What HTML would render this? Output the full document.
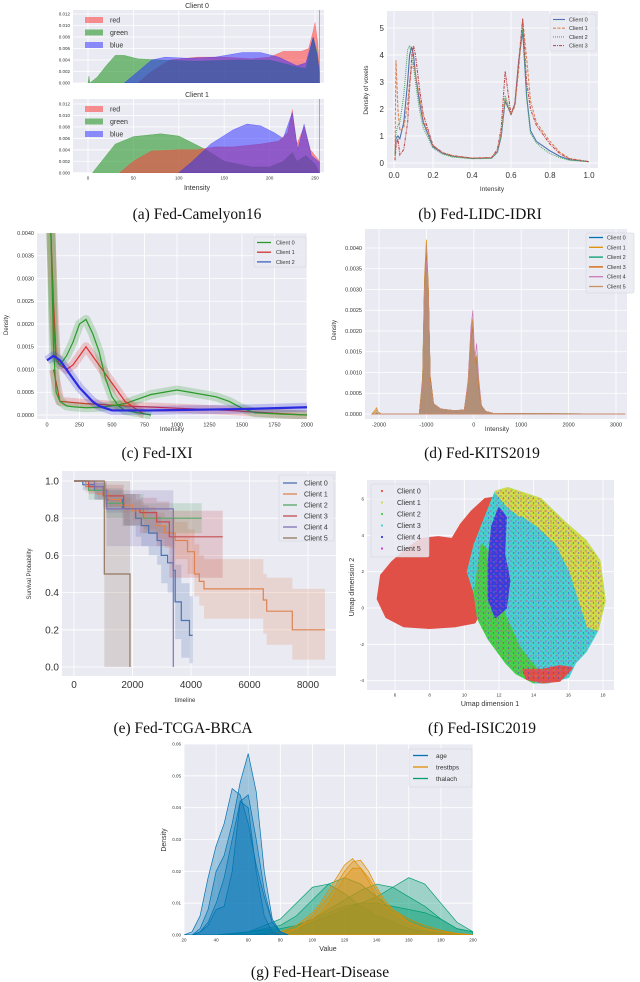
<!DOCTYPE html>
<html><head><meta charset="utf-8"><style>
html,body{margin:0;padding:0;background:#fff;}
svg{display:block;font-family:"Liberation Sans",sans-serif;}
.cap{font-family:"Liberation Serif",serif;font-size:15.5px;fill:#111;}
</style></head><body>
<svg id="fig" width="640" height="982" viewBox="0 0 640 982" xmlns="http://www.w3.org/2000/svg">
<defs>
<pattern id="dotsM" width="5" height="5" patternUnits="userSpaceOnUse"><circle cx="1" cy="1" r="0.8" fill="#d23cd2"/><circle cx="3.5" cy="3" r="0.7" fill="#3c3cdc"/></pattern>
<pattern id="dotsG" width="6" height="6" patternUnits="userSpaceOnUse"><circle cx="2" cy="4" r="0.8" fill="#46d246"/><circle cx="5" cy="1" r="0.7" fill="#e05046"/></pattern>
</defs>
<text class="cap" x="197" y="219" text-anchor="middle">(a) Fed-Camelyon16</text>
<text class="cap" x="480" y="219" text-anchor="middle">(b) Fed-LIDC-IDRI</text>
<text class="cap" x="157" y="458" text-anchor="middle">(c) Fed-IXI</text>
<text class="cap" x="482" y="458" text-anchor="middle">(d) Fed-KITS2019</text>
<text class="cap" x="183" y="733" text-anchor="middle">(e) Fed-TCGA-BRCA</text>
<text class="cap" x="482" y="733" text-anchor="middle">(f) Fed-ISIC2019</text>
<text class="cap" x="320" y="977" text-anchor="middle">(g) Fed-Heart-Disease</text>
</svg>
<script>
// ---------- (a) Camelyon16 ----------
const camTicksX=[0,50,100,150,200,250];
const camTicksY=[0,0.002,0.004,0.006,0.008,0.010,0.012];
const cam0RedX=[55,70,90,120,150,180,200,215,235,243,248,250,253,255];
const cam0RedY=[0,0.002,0.004,0.0045,0.0045,0.0042,0.0045,0.0055,0.0055,0.006,0.009,0.0105,0.007,0.0015];
const cam0GreenX=[0,1,2,10,20,30,40,55,80,120,160,200,225,240,248,253,255];
const cam0GreenY=[0,0.0012,0,0.001,0.003,0.0048,0.0048,0.0042,0.004,0.0038,0.004,0.004,0.003,0.0025,0.008,0.005,0];
const cam0BlueX=[40,55,70,85,110,140,170,190,210,230,240,248,252,255];
const cam0BlueY=[0,0.002,0.004,0.0045,0.0043,0.0045,0.0053,0.0053,0.0045,0.003,0.0035,0.008,0.005,0.002];
const cam1GreenX=[5,15,30,50,80,100,115,130,150,180,200,215,225,230,240,250,255];
const cam1GreenY=[0,0.002,0.005,0.0063,0.0068,0.0064,0.0052,0.004,0.002,0.001,0.001,0.002,0.0035,0.002,0.003,0.0015,0];
const cam1RedX=[35,50,70,100,120,140,160,190,210,220,225,230,238,245,255];
const cam1RedY=[0,0.002,0.0038,0.004,0.004,0.0045,0.0045,0.005,0.0055,0.007,0.011,0.005,0.008,0.004,0.002];
const cam1BlueX=[100,115,135,160,175,190,205,215,225,231,238,246,255];
const cam1BlueY=[0,0.002,0.005,0.0075,0.0085,0.0082,0.007,0.006,0.0105,0.004,0.0085,0.003,0.0018];
const camLegend=['red','green','blue'];
// ---------- (b) LIDC ----------
const lidcX=[0.005,0.01,0.02,0.03,0.05,0.07,0.08,0.09,0.1,0.11,0.13,0.15,0.2,0.25,0.3,0.4,0.5,0.53,0.55,0.57,0.6,0.62,0.64,0.66,0.68,0.7,0.73,0.76,0.8,0.85,0.9,1.0];
const lidcC0=[0.3,0.9,1.0,0.9,1.5,3.0,4.0,4.3,4.0,3.3,2.3,1.5,0.6,0.35,0.25,0.17,0.18,0.4,1.0,2.3,1.8,2.2,3.8,4.9,2.5,1.2,0.8,0.65,0.45,0.25,0.12,0.05];
const lidcC1=[0.1,3.8,2.0,1.2,1.3,2.2,3.0,3.5,3.7,3.3,2.5,1.6,0.65,0.38,0.27,0.18,0.2,0.45,1.1,2.4,1.8,2.1,3.5,5.3,3.9,2.3,1.5,1.2,0.8,0.4,0.17,0.05];
const lidcC2=[0.3,1.1,1.4,1.5,2.5,4.2,4.35,4.0,3.6,3.0,2.0,1.3,0.55,0.33,0.22,0.16,0.17,0.4,1.0,2.5,1.8,2.2,3.8,5.0,2.4,1.1,0.75,0.55,0.35,0.2,0.1,0.05];
const lidcC3=[0.1,0.6,0.9,0.3,0.5,1.5,2.8,3.8,4.35,4.0,2.8,1.8,0.65,0.38,0.27,0.18,0.2,0.5,1.3,3.4,1.8,2.2,3.8,5.35,3.0,2.0,1.4,1.1,0.7,0.35,0.15,0.05];
const lidcTicksX=[0,0.2,0.4,0.6,0.8,1.0];
const lidcTicksY=[0,1,2,3,4,5];
// ---------- (c) IXI ----------
const ixiTicksX=[0,250,500,750,1000,1250,1500,1750,2000];
const ixiTicksY=[0,0.0005,0.001,0.0015,0.002,0.0025,0.003,0.0035,0.004];
const ixiGreenAX=[0,30,50,70,100,150,200,250,300,350,400,450,500,550,600,700,800];
const ixiGreenAY=[0.0045,0.004,0.002,0.0012,0.0011,0.0013,0.0016,0.002,0.0021,0.0018,0.0014,0.0008,0.0004,0.0002,0.0001,0.00005,0];
const ixiGreenBX=[0,30,50,70,100,150,200,300,400,500,600,700,800,900,1000,1100,1200,1300,1400,1500,1600,1800,2000];
const ixiGreenBY=[0.0045,0.004,0.0015,0.0005,0.0003,0.0002,0.00018,0.00016,0.00017,0.0002,0.00025,0.00035,0.00045,0.0005,0.00055,0.0005,0.00045,0.0004,0.0003,0.00015,0.00005,0.00002,0];
const ixiRedAX=[0,30,50,70,100,150,200,250,300,350,400,450,500,550,600,650,700,750];
const ixiRedAY=[0.0045,0.004,0.0025,0.0013,0.0011,0.001,0.0011,0.0013,0.0015,0.0013,0.0011,0.0009,0.0007,0.0005,0.0003,0.0002,0.0001,0.00002];
const ixiRedBX=[50,100,300,600,1000,1400,1800,2000];
const ixiRedBY=[0.001,0.0003,0.00025,0.0002,0.00015,0.0001,0.00003,0];
const ixiBlueX=[0,50,100,150,200,250,300,350,400,450,500,600,800,1000,1500,2000];
const ixiBlueY=[0.0012,0.0013,0.0012,0.001,0.0008,0.0006,0.00045,0.0003,0.0002,0.00015,0.0001,0.0001,0.0001,0.00011,0.00013,0.00017];
const ixiLegend=['Client 0','Client 1','Client 2'];
// ---------- (d) KITS ----------
const kitsTicksX=[-2000,-1000,0,1000,2000,3000];
const kitsTicksY=[0,0.0005,0.001,0.0015,0.002,0.0025,0.003,0.0035,0.004];
const kitsX=[-2150,-2080,-2050,-2020,-1950,-1150,-1080,-1040,-1000,-960,-920,-850,-700,-400,-200,-120,-60,-20,20,60,100,160,250,400,700,3200];
const kitsC0=[0,0,0.00003,0,0,0,0.0008,0.003,0.004,0.003,0.0009,0.00025,0.00012,0.00008,0.0001,0.0007,0.0019,0.0021,0.0013,0.0014,0.0008,0.0002,0.00006,0.00002,0.00001,0];
const kitsC1=[0,0.0001,0.00015,0.00005,0,0,0.0009,0.0033,0.0042,0.0031,0.0009,0.00025,0.00012,0.00008,0.0001,0.0008,0.002,0.0023,0.0012,0.0013,0.0007,0.0002,0.00006,0.00002,0.00001,0];
const kitsC2=[0,0,0.00002,0,0,0,0.0008,0.0031,0.004,0.0029,0.0008,0.00024,0.00012,0.00008,0.0001,0.0007,0.0019,0.0022,0.0012,0.0013,0.0007,0.0002,0.00006,0.00002,0.00001,0];
const kitsC3=[0,0,0.00002,0,0,0,0.0007,0.003,0.0039,0.003,0.0009,0.00025,0.00012,0.00008,0.0001,0.0007,0.0018,0.0021,0.0012,0.0014,0.0007,0.0002,0.00006,0.00002,0.00001,0];
const kitsC4=[0,0,0.00001,0,0,0,0.0007,0.0028,0.0037,0.0028,0.0008,0.00024,0.00012,0.00008,0.0001,0.0008,0.0021,0.0025,0.0013,0.0017,0.0009,0.0002,0.00006,0.00002,0.00001,0];
const kitsC5=[0,0.00005,0.0001,0.00005,0,0,0.0008,0.0032,0.0041,0.003,0.0008,0.00025,0.00012,0.00008,0.0001,0.0007,0.0019,0.0022,0.0012,0.0014,0.0008,0.0002,0.00006,0.00002,0.00001,0];
const kitsLegend=['Client 0','Client 1','Client 2','Client 3','Client 4','Client 5'];
// ---------- (e) TCGA-BRCA ----------
const kmTicksX=[0,2000,4000,6000,8000];
const kmTicksY=[0,0.2,0.4,0.6,0.8,1.0];
const km0T=[0,300,700,1100,1655,2110,2300,2555,2840,2980,3200,3390,3460,3670,3950];
const km0S=[1,0.98,0.95,0.9,0.85,0.8,0.76,0.72,0.68,0.6,0.56,0.52,0.35,0.25,0.17];
const km0Lo=[1,0.95,0.9,0.83,0.76,0.7,0.65,0.6,0.55,0.45,0.4,0.35,0.15,0.05,0.02];
const km0Hi=[1,1,0.99,0.96,0.93,0.9,0.87,0.84,0.81,0.76,0.73,0.7,0.55,0.45,0.38];
const km1T=[0,400,800,1200,1600,2000,2400,2800,3100,3460,3880,4120,4285,4444,6473,6587,7464];
const km1S=[1,0.97,0.93,0.9,0.87,0.84,0.8,0.76,0.72,0.68,0.62,0.5,0.46,0.42,0.36,0.3,0.2];
const km1Lo=[1,0.94,0.9,0.86,0.83,0.79,0.74,0.69,0.64,0.58,0.5,0.38,0.33,0.26,0.18,0.12,0.04];
const km1Hi=[1,1,0.96,0.93,0.91,0.89,0.86,0.83,0.8,0.78,0.74,0.66,0.6,0.58,0.5,0.48,0.42];
const km2T=[0,500,1100,1700,2370];
const km2S=[1,0.95,0.88,0.85,0.8];
const km2Lo=[1,0.9,0.8,0.76,0.72];
const km2Hi=[1,0.99,0.95,0.93,0.88];
const km3T=[0,500,1000,1700,2256,2827,3258];
const km3S=[1,0.97,0.92,0.85,0.83,0.78,0.7];
const km3Lo=[1,0.93,0.86,0.76,0.72,0.65,0.48];
const km3Hi=[1,1,0.98,0.93,0.91,0.89,0.84];
const km4T=[0,700,1000,1117,3395];
const km4S=[1,0.97,0.95,0.85,0];
const km4Lo=[1,0.9,0.85,0.65,0];
const km4Hi=[1,1,1,0.95,0];
const km5T=[0,1037,1915];
const km5S=[1,0.5,0];
const km5Lo=[1,0,0];
const km5Hi=[1,1,0];
const kmEnd=[4058,8581,4365,5083,3395,1915];
const kmLegend=['Client 0','Client 1','Client 2','Client 3','Client 4','Client 5'];
// ---------- (f) ISIC2019 (cluster outlines in data coords) ----------
const isicTicksX=[6,8,10,12,14,16,18];
const isicTicksY=[-4,-2,0,2,4,6];
const isicRedBlob=[[5,0.5],[5.2,1.8],[5.8,2.5],[6.6,3.2],[7.5,3.8],[8.5,3.9],[9.3,3.8],[9.8,4.6],[10.4,5.3],[11.2,6],[11.9,6.1],[12,5],[11.5,4.2],[11,3.8],[10.5,3],[10.5,2.2],[11,1.2],[11,0],[10.6,-0.8],[9.5,-1],[8,-1.1],[6.5,-1],[5.5,-0.5]];
const isicCluster=[[10.2,2],[10.6,3.5],[11.3,5.2],[11.8,6.4],[12.5,6.6],[14.4,6],[15.8,4.7],[17,3.7],[17.8,2.6],[18.1,0.4],[17.7,-1.2],[17,-2.4],[16.4,-3],[16,-3.8],[14.8,-4.1],[14,-4.1],[13,-3.6],[12.4,-3],[11.4,-1.7],[10.8,-0.6],[10.6,0.8]];
const isicYellow=[[11.8,6.4],[12.5,6.6],[14.4,6],[15.8,4.7],[17,3.7],[17.8,2.6],[18.1,0.4],[17.7,-1.2],[17,-1],[16.5,0.5],[16,2],[15.2,3.5],[14.2,4.4],[13.3,5],[12.5,5.6]];
const isicCyan=[[12.2,4.5],[13.3,5],[14.2,4.4],[15.2,3.5],[16,2],[16.5,0.5],[17,-1],[16.6,-2.8],[15.8,-3.5],[14.5,-3.6],[13.6,-3],[13,-1.5],[12.5,0.5],[12.3,2.5]];
const isicGreen=[[10.6,0.8],[10.8,-0.6],[11.4,-1.7],[12.4,-3],[13,-3.6],[14,-4.1],[14.2,-3.4],[13.2,-2.2],[12.4,-0.5],[11.8,1],[11.5,3],[11,3.5]];
const isicBlue=[[11.6,4.5],[12,5.5],[12.4,5],[12.3,3],[12.6,1.5],[12.4,0],[11.8,-0.5],[11.4,0.5],[11.4,2.5]];
const isicRedBottom=[[13.4,-3.4],[14.5,-3.4],[15.5,-3.2],[16.2,-3.3],[15.5,-4],[14.5,-4.1],[13.6,-3.9]];
const isicLegend=['Client 0','Client 1','Client 2','Client 3','Client 4','Client 5'];
// ---------- (g) Heart disease ----------
const hdTicksX=[20,40,60,80,100,120,140,160,180,200];
const hdTicksY=[0,0.01,0.02,0.03,0.04,0.05,0.06];
const ageX=[20,25,30,35,40,45,50,55,60,65,70,75,80,85];
const age1=[0,0.001,0.006,0.018,0.028,0.035,0.046,0.044,0.035,0.022,0.012,0.004,0.001,0];
const age2=[0,0,0.002,0.008,0.02,0.025,0.035,0.048,0.057,0.045,0.02,0.005,0.001,0];
const age3=[0,0,0.001,0.004,0.01,0.018,0.03,0.042,0.044,0.03,0.014,0.004,0.001,0];
const age4=[0,0,0.001,0.003,0.008,0.009,0.02,0.042,0.04,0.02,0.006,0.001,0,0];
const tbX=[70,80,90,100,105,110,115,120,125,130,135,140,145,150,160,170,180,190,200];
const tb1=[0,0.001,0.003,0.007,0.01,0.014,0.018,0.022,0.024,0.021,0.017,0.012,0.009,0.007,0.004,0.002,0.001,0.0005,0];
const tb2=[0,0.001,0.002,0.006,0.009,0.012,0.016,0.02,0.023,0.0235,0.02,0.015,0.011,0.008,0.004,0.002,0.001,0.0005,0];
const tb3=[0,0,0.002,0.005,0.007,0.01,0.014,0.018,0.021,0.021,0.018,0.014,0.01,0.008,0.005,0.003,0.0015,0.0005,0];
const thX=[40,60,80,90,100,110,120,130,140,150,160,170,180,190,200];
const th1=[0,0.001,0.005,0.01,0.015,0.016,0.013,0.009,0.006,0.004,0.002,0.001,0.0005,0.0002,0];
const th2=[0,0.001,0.003,0.006,0.011,0.016,0.018,0.016,0.012,0.008,0.005,0.003,0.0015,0.0005,0];
const th3=[0,0,0.001,0.002,0.004,0.006,0.008,0.01,0.012,0.015,0.018,0.016,0.01,0.004,0.001];
const th4=[0,0,0.001,0.003,0.005,0.008,0.011,0.014,0.016,0.015,0.012,0.009,0.005,0.002,0.001];
const th5=[0,0.001,0.002,0.003,0.005,0.007,0.009,0.01,0.01,0.009,0.008,0.007,0.005,0.002,0.001];
const hdLegend=['age','trestbps','thalach'];

// ---------- helpers ----------
const NS='http://www.w3.org/2000/svg';
const svg=document.getElementById('fig');
function mk(tag,parent,attrs){const e=document.createElementNS(NS,tag);for(const k in attrs)e.setAttribute(k,attrs[k]);parent.appendChild(e);return e;}
function txt(parent,x,y,s,size,anchor,extra){const t=mk('text',parent,Object.assign({x:x,y:y,'font-size':size,'text-anchor':anchor||'middle',fill:'#333'},extra||{}));t.textContent=s;return t;}
function lin(d0,p0,d1,p1){return v=>p0+(v-d0)*(p1-p0)/(d1-d0);}
let clipN=0;
function axes(name,box,sx,sy,xt,yt,xfmt,yfmt,fs,showX){
  const g=mk('g',svg,{});
  
  
  const bg=mk('rect',g,{x:box[0],y:box[1],width:box[2]-box[0],height:box[3]-box[1],fill:'#eaeaf2'});
  
  
  xt.forEach(v=>{
    const l=mk('line',g,{x1:sx(v),x2:sx(v),y1:box[1],y2:box[3],stroke:'#fff','stroke-width':0.8});
    
    
    if(showX!==false){
      const t=txt(g,sx(v),box[3]+fs+2,xfmt(v),fs);
      
      
    }
  });
  yt.forEach(v=>{
    const l=mk('line',g,{x1:box[0],x2:box[2],y1:sy(v),y2:sy(v),stroke:'#fff','stroke-width':0.8});
    
    
    const t=txt(g,box[0]-3,sy(v)+fs*0.35,yfmt(v),fs,'end');
    
    
  });
  const cp=mk('clipPath',g,{id:'clip'+(++clipN)});
  mk('rect',cp,{x:box[0],y:box[1],width:box[2]-box[0],height:box[3]-box[1]});
  const inner=mk('g',g,{'clip-path':'url(#clip'+clipN+')'});
  
  
  return inner;
}
function linePath(xs,ys,sx,sy){return xs.map((x,i)=>(i?'L':'M')+sx(x).toFixed(2)+','+sy(ys[i]).toFixed(2)).join('');}
function areaPath(xs,ys,sx,sy){return linePath(xs,ys,sx,sy)+'L'+sx(xs[xs.length-1]).toFixed(2)+','+sy(0).toFixed(2)+'L'+sx(xs[0]).toFixed(2)+','+sy(0).toFixed(2)+'Z';}
function polyPts(pts,sx,sy){return pts.map(p=>sx(p[0]).toFixed(1)+','+sy(p[1]).toFixed(1)).join(' ');}
function rotLabel(x,y,s,size,name){const t=txt(svg,x,y,s,size,'middle',{transform:'rotate(-90 '+x+' '+y+')'});return t;}
function label(x,y,s,size,name){const t=txt(svg,x,y,s,size);return t;}
function legendBox(x,y,w,h){const r=mk('rect',svg,{x:x,y:y,width:w,height:h,fill:'#eaeaf2','fill-opacity':0.85,stroke:'#d0d0d8','stroke-width':0.5,rx:1.5});}
const f3=v=>v.toFixed(3), f4=v=>v.toFixed(4), f1=v=>v.toFixed(1), f0=v=>String(v), f2=v=>v.toFixed(2);

// ---------- draw (a) ----------
const camSx=lin(0,88,250,315);
const cam0Sy=lin(0,83,0.012,14);
const cam1Sy=lin(0,172.7,0.012,104);
const camCols=['rgba(255,60,60,0.55)','rgba(40,150,40,0.6)','rgba(40,40,255,0.5)'];
const a0=axes('camelyon-client0-plot',[73,10,324,83],camSx,cam0Sy,camTicksX,camTicksY,f0,f3,4.5,false);
[[cam0RedX,cam0RedY],[cam0GreenX,cam0GreenY],[cam0BlueX,cam0BlueY]].forEach((s,i)=>{
  const p=mk('path',a0,{d:areaPath(s[0],s[1],camSx,cam0Sy),fill:camCols[i],stroke:camCols[i],'stroke-width':0.5});
  
  
});
const a1=axes('camelyon-client1-plot',[73,99,324,173],camSx,cam1Sy,camTicksX,camTicksY,f0,f3,4.5,true);
[[cam1GreenX,cam1GreenY],[cam1RedX,cam1RedY],[cam1BlueX,cam1BlueY]].forEach((s,i)=>{
  const ci=[1,0,2][i];
  const p=mk('path',a1,{d:areaPath(s[0],s[1],camSx,cam1Sy),fill:camCols[ci],stroke:camCols[ci],'stroke-width':0.5});
  
  
});
[a0,a1].forEach((g,j)=>{
  const vl=mk('line',g,{x1:camSx(255),x2:camSx(255),y1:j?99:10,y2:j?173:83,stroke:'#8870b0','stroke-width':0.6});
  
  
});
label(197,8,'Client 0',7,'client0-title');
label(197,97,'Client 1',7,'client1-title');
label(197,190,'Intensity',7,'camelyon-x-axis-title');
[20,109].forEach(y0=>{
  camLegend.forEach((n,i)=>{
    const r=mk('rect',svg,{x:85,y:y0+i*12.5-3,width:18,height:6,fill:camCols[i]});
    
    
    const t=txt(svg,110,y0+i*12.5+2.5,n,7,'start');
    
    
  });
});

// ---------- draw (b) ----------
const lSx=lin(0,394,1,589), lSy=lin(0,163,5,28);
const bG=axes('lidc-plot',[387,11,598,168],lSx,lSy,lidcTicksX,lidcTicksY,f1,f0,8,true);
const lidcCols=['#4c72b0','#dd8452','#55a868','#c44e52'];
const lidcDash=['none','3,1.5','1,1','3,1,1,1'];
[lidcC0,lidcC1,lidcC2,lidcC3].forEach((ys,i)=>{
  const p=mk('path',bG,{d:linePath(lidcX,ys,lSx,lSy),fill:'none',stroke:lidcCols[i],'stroke-width':1.1,'stroke-dasharray':lidcDash[i]});
  
  
});
rotLabel(368,90,'Density of voxels',6.5,'lidc-y-axis-title');
label(492,191,'Intensity',6.5,'lidc-x-axis-title');
legendBox(550,14,46,37);
['Client 0','Client 1','Client 2','Client 3'].forEach((n,i)=>{
  const y=19.5+i*8.7;
  const l=mk('line',svg,{x1:553,x2:565,y1:y,y2:y,stroke:lidcCols[i],'stroke-width':1.1,'stroke-dasharray':lidcDash[i]});
  
  
  const t=txt(svg,569,y+2,n,5.5,'start');
  
  
});

// ---------- draw (c) ----------
const iSx=lin(0,47,2000,307), iSy=lin(0,415,0.004,233);
const cG=axes('ixi-plot',[37,233,307,419],iSx,iSy,ixiTicksX,ixiTicksY,f0,f4,5.5,true);
const ixiSeries=[[ixiRedBX,ixiRedBY,'#e03030','client1'],[ixiGreenBX,ixiGreenBY,'#2a9a2a','client0'],[ixiRedAX,ixiRedAY,'#e03030','client1'],[ixiGreenAX,ixiGreenAY,'#2a9a2a','client0'],[ixiBlueX,ixiBlueY,'#2a2ae0','client2']];
ixiSeries.forEach(s=>{
  const h=mk('path',cG,{d:linePath(s[0],s[1],iSx,iSy),fill:'none',stroke:s[2],'stroke-width':9,'stroke-opacity':0.22,'stroke-linejoin':'round'});
  
  
  const p=mk('path',cG,{d:linePath(s[0],s[1],iSx,iSy),fill:'none',stroke:s[2],'stroke-width':s[3]==='client2'?2.2:1.2});
  
  
});
rotLabel(8,325,'Density',6,'ixi-y-axis-title');
label(172,431,'Intensity',6.5,'ixi-x-axis-title');
legendBox(254,237,52,30);
const ixiCols=['#2a9a2a','#d03030','#4060c0'];
ixiLegend.forEach((n,i)=>{
  const y=242.5+i*9.7;
  const l=mk('line',svg,{x1:257,x2:271,y1:y,y2:y,stroke:ixiCols[i],'stroke-width':1.3});
  
  
  const t=txt(svg,276,y+2,n,5.5,'start');
  
  
});

// ---------- draw (d) ----------
const kSx=lin(-2000,379,3000,616), kSy=lin(0,414,0.004,248);
const dG=axes('kits-plot',[365,229,627,419],kSx,kSy,kitsTicksX,kitsTicksY,f0,f4,5.5,true);
const kitsCols=['#0173b2','#de8f05','#029e73','#d55e00','#cc78bc','#ca9161'];
[kitsC0,kitsC1,kitsC2,kitsC3,kitsC4,kitsC5].forEach((ys,i)=>{
  const a=mk('path',dG,{d:areaPath(kitsX,ys,kSx,kSy),fill:kitsCols[i],'fill-opacity':0.28,stroke:kitsCols[i],'stroke-width':0.7});
  
  
});
rotLabel(336,330,'Density',6,'kits-y-axis-title');
label(497,431,'Intensity',6.5,'kits-x-axis-title');
legendBox(586,233,48,60);
kitsLegend.forEach((n,i)=>{
  const y=237.5+i*9.8;
  const l=mk('line',svg,{x1:589,x2:603,y1:y,y2:y,stroke:kitsCols[i],'stroke-width':1.3});
  
  
  const t=txt(svg,607,y+2,n,5.5,'start');
  
  
});

// ---------- draw (e) ----------
const eSx=lin(0,74,8000,308), eSy=lin(0,667,1,481);
const eG=axes('tcga-plot',[62,471,336,676],eSx,eSy,kmTicksX,kmTicksY,f0,f1,10,true);
const kmCols=['#4c72b0','#dd8452','#55a868','#c44e52','#8172b3','#937860'];
function stepPts(t,s,end){const p=[];for(let i=0;i<t.length;i++){const t1=i+1<t.length?t[i+1]:end;p.push([t[i],s[i]],[t1,s[i]]);}return p;}
const kmData=[[km0T,km0S,km0Lo,km0Hi],[km1T,km1S,km1Lo,km1Hi],[km2T,km2S,km2Lo,km2Hi],[km3T,km3S,km3Lo,km3Hi],[km4T,km4S,km4Lo,km4Hi],[km5T,km5S,km5Lo,km5Hi]];
kmData.forEach((d,i)=>{
  const hi=stepPts(d[0],d[3],kmEnd[i]), lo=stepPts(d[0],d[2],kmEnd[i]).reverse();
  const b=mk('polygon',eG,{points:polyPts(hi.concat(lo),eSx,eSy),fill:kmCols[i],'fill-opacity':0.22});
  
  
});
kmData.forEach((d,i)=>{
  const l=mk('polyline',eG,{points:polyPts(stepPts(d[0],d[1],kmEnd[i]),eSx,eSy),fill:'none',stroke:kmCols[i],'stroke-width':1.2});
  
  
});
rotLabel(31,574,'Survival Probability',6,'tcga-y-axis-title');
label(185,702,'timeline',6,'tcga-x-axis-title');
legendBox(279,475,55,66);
kmLegend.forEach((n,i)=>{
  const y=483+i*11;
  const l=mk('line',svg,{x1:283,x2:297,y1:y,y2:y,stroke:kmCols[i],'stroke-width':1.3});
  
  
  const t=txt(svg,304,y+2.5,n,7,'start');
  
  
});

// ---------- draw (f) ----------
const fSx=lin(6,395,18,603), fSy=lin(0,608,6,499);
const fG=axes('isic-plot',[367,480,614,690],fSx,fSy,isicTicksX,isicTicksY,f0,f0,4.5,true);
const isicCols=['#e05046','#d2dc46','#46d246','#46d2d2','#3c3cdc','#d23cd2'];
const isicLayers=[[isicRedBlob,isicCols[0],'client0-cluster'],[isicCluster,isicCols[3],'mixed-cluster'],[isicYellow,isicCols[1],'client1-cluster'],[isicCyan,isicCols[3],'client3-cluster'],[isicGreen,isicCols[2],'client2-cluster'],[isicBlue,isicCols[4],'client4-cluster'],[isicRedBottom,isicCols[0],'client0-lower-cluster']];
isicLayers.forEach(L=>{
  const p=mk('polygon',fG,{points:polyPts(L[0],fSx,fSy),fill:L[1],stroke:L[1],'stroke-width':2,'stroke-linejoin':'round'});
  
  
});
const ov=mk('polygon',fG,{points:polyPts(isicCluster,fSx,fSy),fill:'url(#dotsM)','fill-opacity':0.7});


const ov2=mk('polygon',fG,{points:polyPts(isicCluster,fSx,fSy),fill:'url(#dotsG)','fill-opacity':0.6});


rotLabel(354,587,'Umap dimension 2',7,'isic-y-axis-title');
label(490,706,'Umap dimension 1',7,'isic-x-axis-title');
legendBox(371,484,58,73);
isicLegend.forEach((n,i)=>{
  const y=491+i*11.5;
  const c=mk('circle',svg,{cx:382,cy:y,r:1.1,fill:isicCols[i]});
  
  
  const t=txt(svg,397,y+2.5,n,7,'start');
  
  
});

// ---------- draw (g) ----------
const gSx=lin(20,184,200,473), gSy=lin(0,935,0.06,744);
const gG=axes('heart-plot',[184,744,473,935],gSx,gSy,hdTicksX,hdTicksY,f0,f2,4.5,true);
const hdCols=['#0173b2','#de8f05','#029e73'];
const hdSeries=[[thX,th5,2],[thX,th1,2],[thX,th2,2],[thX,th3,2],[thX,th4,2],[tbX,tb1,1],[tbX,tb2,1],[tbX,tb3,1],[ageX,age1,0],[ageX,age2,0],[ageX,age3,0],[ageX,age4,0]];
hdSeries.forEach((s,i)=>{
  const p=mk('path',gG,{d:areaPath(s[0],s[1],gSx,gSy),fill:hdCols[s[2]],'fill-opacity':0.33,stroke:hdCols[s[2]],'stroke-width':0.7});
  
  
});
rotLabel(166,840,'Density',7,'heart-y-axis-title');
label(328,951,'Value',7,'heart-x-axis-title');
legendBox(409,749,63,38);
hdLegend.forEach((n,i)=>{
  const y=755.5+i*11.5;
  const l=mk('line',svg,{x1:413,x2:428,y1:y,y2:y,stroke:hdCols[i],'stroke-width':1.3});
  
  
  const t=txt(svg,436,y+2.5,n,6.5,'start');
  
  
});
</script>
</body></html>
